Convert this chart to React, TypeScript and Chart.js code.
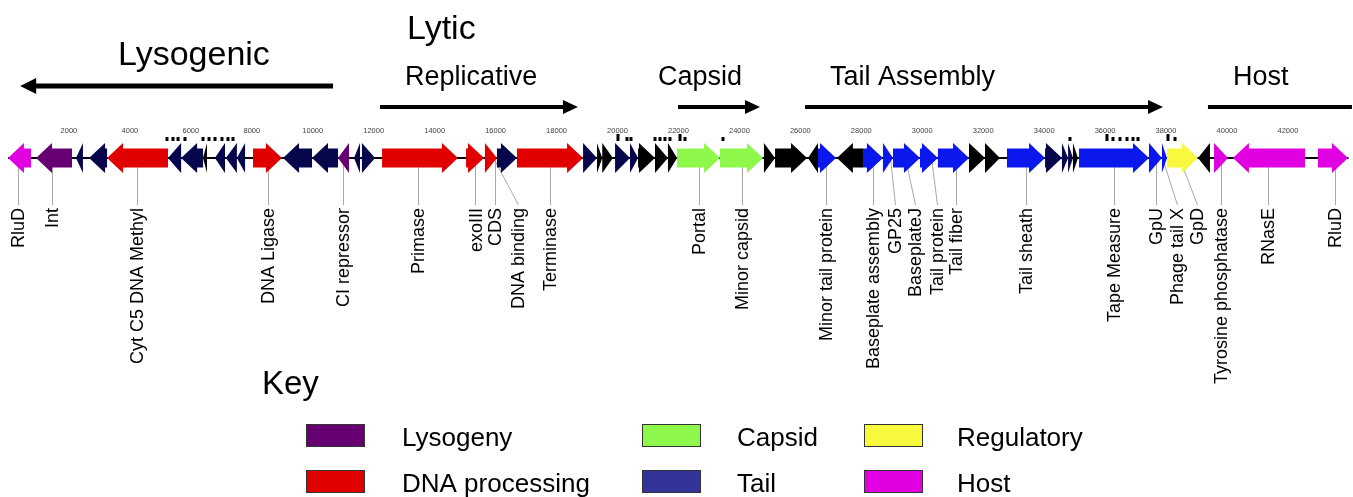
import React, { useEffect, useRef } from 'react';
import { Chart, registerables } from 'chart.js';

Chart.register(...registerables);

// ---------- DATA ----------
// genome axis (bp)
const AXIS_MIN_BP = -262.5;
const AXIS_MAX_BP = 44135;
const GENOME_END_BP = 43990;

const tickValues: number[] = [
  2000, 4000, 6000, 8000, 10000, 12000, 14000, 16000, 18000, 20000, 22000,
  24000, 26000, 28000, 30000, 32000, 34000, 36000, 38000, 40000, 42000,
];

// [start bp, end bp, strand (1 forward / -1 reverse), category]
const genes: [number, number, number, string][] = [
  [0, 755, -1, 'host'],
  [920, 2100, -1, 'lysogeny'],
  [2230, 2460, -1, 'tail'],
  [2660, 3250, -1, 'tail'],
  [3250, 5250, -1, 'dna'],
  [5250, 5680, -1, 'tail'],
  [5680, 6400, -1, 'tail'],
  [6400, 6530, -1, 'other'],
  [6790, 7120, -1, 'tail'],
  [7150, 7510, -1, 'tail'],
  [7510, 7780, -1, 'tail'],
  [8040, 8990, 1, 'dna'],
  [9025, 9975, -1, 'tail'],
  [9975, 10830, -1, 'tail'],
  [10830, 11190, -1, 'lysogeny'],
  [11355, 11550, -1, 'tail'],
  [11615, 12045, 1, 'tail'],
  [12275, 14765, 1, 'dna'],
  [15030, 15620, 1, 'dna'],
  [15650, 16045, 1, 'dna'],
  [16045, 16700, 1, 'tail'],
  [16700, 18870, 1, 'dna'],
  [18870, 19327, 1, 'tail'],
  [19327, 19500, 1, 'other'],
  [19500, 19850, 1, 'other'],
  [19920, 20410, 1, 'tail'],
  [20410, 20675, 1, 'tail'],
  [20675, 21230, 1, 'other'],
  [21230, 21655, 1, 'other'],
  [21655, 21955, 1, 'other'],
  [21955, 23365, 1, 'capsid'],
  [23365, 24775, 1, 'capsid'],
  [24805, 25170, 1, 'other'],
  [25170, 26220, 1, 'other'],
  [26250, 26580, -1, 'other'],
  [26580, 27170, 1, 'tailBlue'],
  [27200, 28055, -1, 'other'],
  [28055, 28710, 1, 'tailBlue'],
  [28710, 29040, 1, 'tailBlue'],
  [29040, 29925, 1, 'tailBlue'],
  [29925, 30515, 1, 'tailBlue'],
  [30515, 31535, 1, 'tailBlue'],
  [31535, 32060, 1, 'other'],
  [32060, 32550, 1, 'other'],
  [32780, 34030, 1, 'tailBlue'],
  [34030, 34585, 1, 'tail'],
  [34585, 34785, 1, 'tail'],
  [34785, 34945, 1, 'tail'],
  [34945, 35110, 1, 'other'],
  [35145, 37440, 1, 'tailBlue'],
  [37440, 37865, 1, 'tailBlue'],
  [37865, 38030, 1, 'tailBlue'],
  [38030, 39050, 1, 'regulatory'],
  [39050, 39440, -1, 'other'],
  [39575, 40035, 1, 'host'],
  [40195, 42560, -1, 'host'],
  [42985, 43970, 1, 'host'],
];

// small marks above the track: [bp, tall (1) or short (0)]
const marks: [number, number][] = [
  [5217, 0], [5414, 0], [5580, 0], [5808, 0],
  [6399, 0], [6596, 0], [6793, 0], [7022, 0], [7219, 0], [7383, 0],
  [20016, 1], [20311, 0], [20442, 0],
  [21231, 0], [21394, 0], [21558, 0], [21722, 0], [22051, 1], [22215, 0],
  [23462, 0],
  [34848, 0],
  [36062, 1], [36259, 0], [36489, 0], [36719, 0], [36916, 0], [37080, 0],
  [38064, 1], [38294, 0],
];

// gene labels: name, anchor on track (bp), text position (bp)
const labelNames: string[] = [
  'RluD', 'Int', 'Cyt C5 DNA Methyl', 'DNA Ligase', 'CI repressor', 'Primase',
  'exoIII', 'CDS', 'DNA binding', 'Terminase', 'Portal', 'Minor capsid',
  'Minor tail protein', 'Baseplate assembly', 'GP25', 'BaseplateJ',
  'Tail protein', 'Tail fiber', 'Tail sheath', 'Tape Measure', 'GpU',
  'Phage tail X', 'GpD', 'Tyrosine phosphatase', 'RNasE', 'RluD',
];
const labelAnchors: number[] = [
  328, 1444, 4233, 8532, 10993, 13454,
  15340, 15980, 15915, 17785, 22675, 24085,
  26842, 28384, 28942, 29434,
  30287, 31108, 33405, 36293, 37670,
  37867, 38425, 39803, 41345, 43544,
];
const labelPositions: number[] = [
  328, 1444, 4233, 8532, 10993, 13454,
  15340, 15980, 16735, 17785, 22675, 24085,
  26842, 28384, 29106, 29762,
  30484, 31108, 33405, 36293, 37670,
  38359, 39016, 39803, 41345, 43544,
];

// phase arrows: name, from bp, to bp (direction from -> to), head drawn (1/0)
const phaseNames: string[] = ['Replicative', 'Capsid', 'Tail Assembly', 'Host'];
const phaseFrom: number[] = [12207, 21986, 26153, 39376];
const phaseTo: number[] = [18703, 24676, 37900, 44100];
const phaseHead: number[] = [1, 1, 1, 0];
const phaseTextStart: number[] = [13030, 21330, 26975, 40200];

const lysogenicFrom = 10665;
const lysogenicTo = 400;

// legend
const legendNames: string[] = ['Lysogeny', 'DNA processing', 'Capsid', 'Tail', 'Regulatory', 'Host'];
const legendKeys: string[] = ['lysogeny', 'dna', 'capsid', 'tailLegend', 'regulatory', 'host'];

const colors: Record<string, string> = {
  host: '#E000E0',
  lysogeny: '#660072',
  dna: '#E00000',
  tail: '#06064C',
  tailBlue: '#0A18EE',
  tailLegend: '#333399',
  capsid: '#8EF84A',
  regulatory: '#F8F83C',
  other: '#000000',
};

// ---------- LAYOUT ----------
const W = 1353;
const H = 497;
const TRACK_Y = 158;
const BODY_HALF = 9.5;
const HEAD_HALF = 15;
const HEAD_LEN = 16;
const LABEL_TOP = 208;
const FONT = '"Liberation Sans", Arial, sans-serif';

const genomePlugin = {
  id: 'genome',
  afterDatasetsDraw(chart: any) {
    const { ctx, scales } = chart;
    const xs = scales.x;
    const ys = scales.y;
    const px = (v: number) => xs.getPixelForValue(v);
    const py = (v: number) => ys.getPixelForValue(v);
    const ty = py(TRACK_Y);

    ctx.save();

    // backbone
    ctx.strokeStyle = '#000';
    ctx.lineWidth = 2;
    ctx.beginPath();
    ctx.moveTo(px(0), ty);
    ctx.lineTo(px(GENOME_END_BP), ty);
    ctx.stroke();

    // label leader lines
    ctx.strokeStyle = '#a8a8a8';
    ctx.lineWidth = 1;
    for (let i = 0; i < labelNames.length; i++) {
      ctx.beginPath();
      ctx.moveTo(Math.round(px(labelAnchors[i])) + 0.5, ty);
      ctx.lineTo(Math.round(px(labelPositions[i])) + 0.5, py(LABEL_TOP - 3));
      ctx.stroke();
    }

    // genes as arrows
    for (const [s, e, strand, cat] of genes) {
      const a = px(s);
      const b = px(e);
      const len = b - a;
      const head = Math.min(HEAD_LEN, len);
      ctx.fillStyle = colors[cat];
      ctx.beginPath();
      if (strand > 0) {
        ctx.moveTo(a, ty - BODY_HALF);
        ctx.lineTo(b - head, ty - BODY_HALF);
        ctx.lineTo(b - head, ty - HEAD_HALF);
        ctx.lineTo(b, ty);
        ctx.lineTo(b - head, ty + HEAD_HALF);
        ctx.lineTo(b - head, ty + BODY_HALF);
        ctx.lineTo(a, ty + BODY_HALF);
      } else {
        ctx.moveTo(b, ty - BODY_HALF);
        ctx.lineTo(a + head, ty - BODY_HALF);
        ctx.lineTo(a + head, ty - HEAD_HALF);
        ctx.lineTo(a, ty);
        ctx.lineTo(a + head, ty + HEAD_HALF);
        ctx.lineTo(a + head, ty + BODY_HALF);
        ctx.lineTo(b, ty + BODY_HALF);
      }
      ctx.closePath();
      ctx.fill();
    }

    // small marks
    ctx.fillStyle = '#000';
    for (const [m, tall] of marks) {
      const x = px(m);
      if (tall) ctx.fillRect(x - 1.5, py(134), 3, 7);
      else ctx.fillRect(x - 1.5, py(137), 3, 4);
    }

    // tick labels
    ctx.fillStyle = '#444';
    ctx.font = `7.5px ${FONT}`;
    ctx.textAlign = 'center';
    ctx.textBaseline = 'alphabetic';
    for (const t of tickValues) {
      ctx.fillText(String(t), px(t), py(133));
    }

    // gene labels (rotated)
    ctx.fillStyle = '#000';
    const lf = 18;
    ctx.font = `${lf}px ${FONT}`;
    ctx.textAlign = 'right';
    for (let i = 0; i < labelNames.length; i++) {
      ctx.save();
      ctx.translate(px(labelPositions[i]), py(LABEL_TOP));
      ctx.rotate(-Math.PI / 2);
      ctx.fillText(labelNames[i], 0, lf * 0.36);
      ctx.restore();
    }

    // header
    ctx.textAlign = 'left';
    ctx.fillStyle = '#000';
    ctx.font = `34px ${FONT}`;
    ctx.fillText('Lysogenic', 118, py(65));
    ctx.fillText('Lytic', 407, py(39));

    // lysogenic arrow
    const ly = py(86);
    const la = px(lysogenicTo);
    const lb = px(lysogenicFrom);
    ctx.fillRect(la + 14, ly - 2.5, lb - la - 14, 5);
    ctx.beginPath();
    ctx.moveTo(la, ly);
    ctx.lineTo(la + 16, ly - 8);
    ctx.lineTo(la + 16, ly + 8);
    ctx.closePath();
    ctx.fill();

    // phase arrows
    ctx.font = `27px ${FONT}`;
    for (let i = 0; i < phaseNames.length; i++) {
      ctx.fillText(phaseNames[i], px(phaseTextStart[i]), py(85));
      const a = px(phaseFrom[i]);
      const b = px(phaseTo[i]);
      const y = py(107);
      if (phaseHead[i]) {
        ctx.fillRect(a, y - 2, b - a - 14, 4);
        ctx.beginPath();
        ctx.moveTo(b, y);
        ctx.lineTo(b - 15, y - 7);
        ctx.lineTo(b - 15, y + 7);
        ctx.closePath();
        ctx.fill();
      } else {
        ctx.fillRect(a, y - 2, b - a, 4);
      }
    }

    // legend
    ctx.font = `33px ${FONT}`;
    ctx.fillText('Key', 262, py(394));
    const colBox = [306, 642, 864];
    const colText = [402, 737, 957];
    const rowBox = [424, 470];
    const rowText = [446, 492];
    ctx.font = `26px ${FONT}`;
    for (let i = 0; i < legendNames.length; i++) {
      const c = Math.floor(i / 2);
      const r = i % 2;
      ctx.fillStyle = colors[legendKeys[i]];
      ctx.fillRect(colBox[c], py(rowBox[r]), 59, 23);
      ctx.strokeStyle = '#333';
      ctx.lineWidth = 1;
      ctx.strokeRect(colBox[c] + 0.5, py(rowBox[r]) + 0.5, 58, 22);
      ctx.fillStyle = '#000';
      ctx.fillText(legendNames[i], colText[c], py(rowText[r]));
    }

    ctx.restore();
  },
};

export default function App() {
  const ref = useRef<HTMLCanvasElement | null>(null);
  useEffect(() => {
    if (!ref.current) return;
    const chart = new Chart(ref.current, {
      type: 'bar',
      data: {
        datasets: [
          {
            data: genes.map((g) => ({ x: [g[0], g[1]], y: TRACK_Y })) as any,
            backgroundColor: 'rgba(0,0,0,0)',
            borderWidth: 0,
            barThickness: BODY_HALF * 2,
          },
        ],
      },
      options: {
        animation: false,
        responsive: false,
        devicePixelRatio: 1,
        indexAxis: 'y',
        layout: { padding: 0 },
        events: [],
        plugins: { legend: { display: false }, tooltip: { enabled: false } },
        scales: {
          x: { type: 'linear', min: AXIS_MIN_BP, max: AXIS_MAX_BP, display: false, offset: false },
          y: { type: 'linear', min: 0, max: H, reverse: true, display: false, offset: false },
        },
      } as any,
      plugins: [genomePlugin],
    });
    return () => chart.destroy();
  }, []);
  return (
    <div style={{ position: 'absolute', left: 0, top: 0, width: W, height: H, background: '#fff' }}>
      <canvas ref={ref} width={W} height={H} style={{ display: 'block' }} />
    </div>
  );
}
